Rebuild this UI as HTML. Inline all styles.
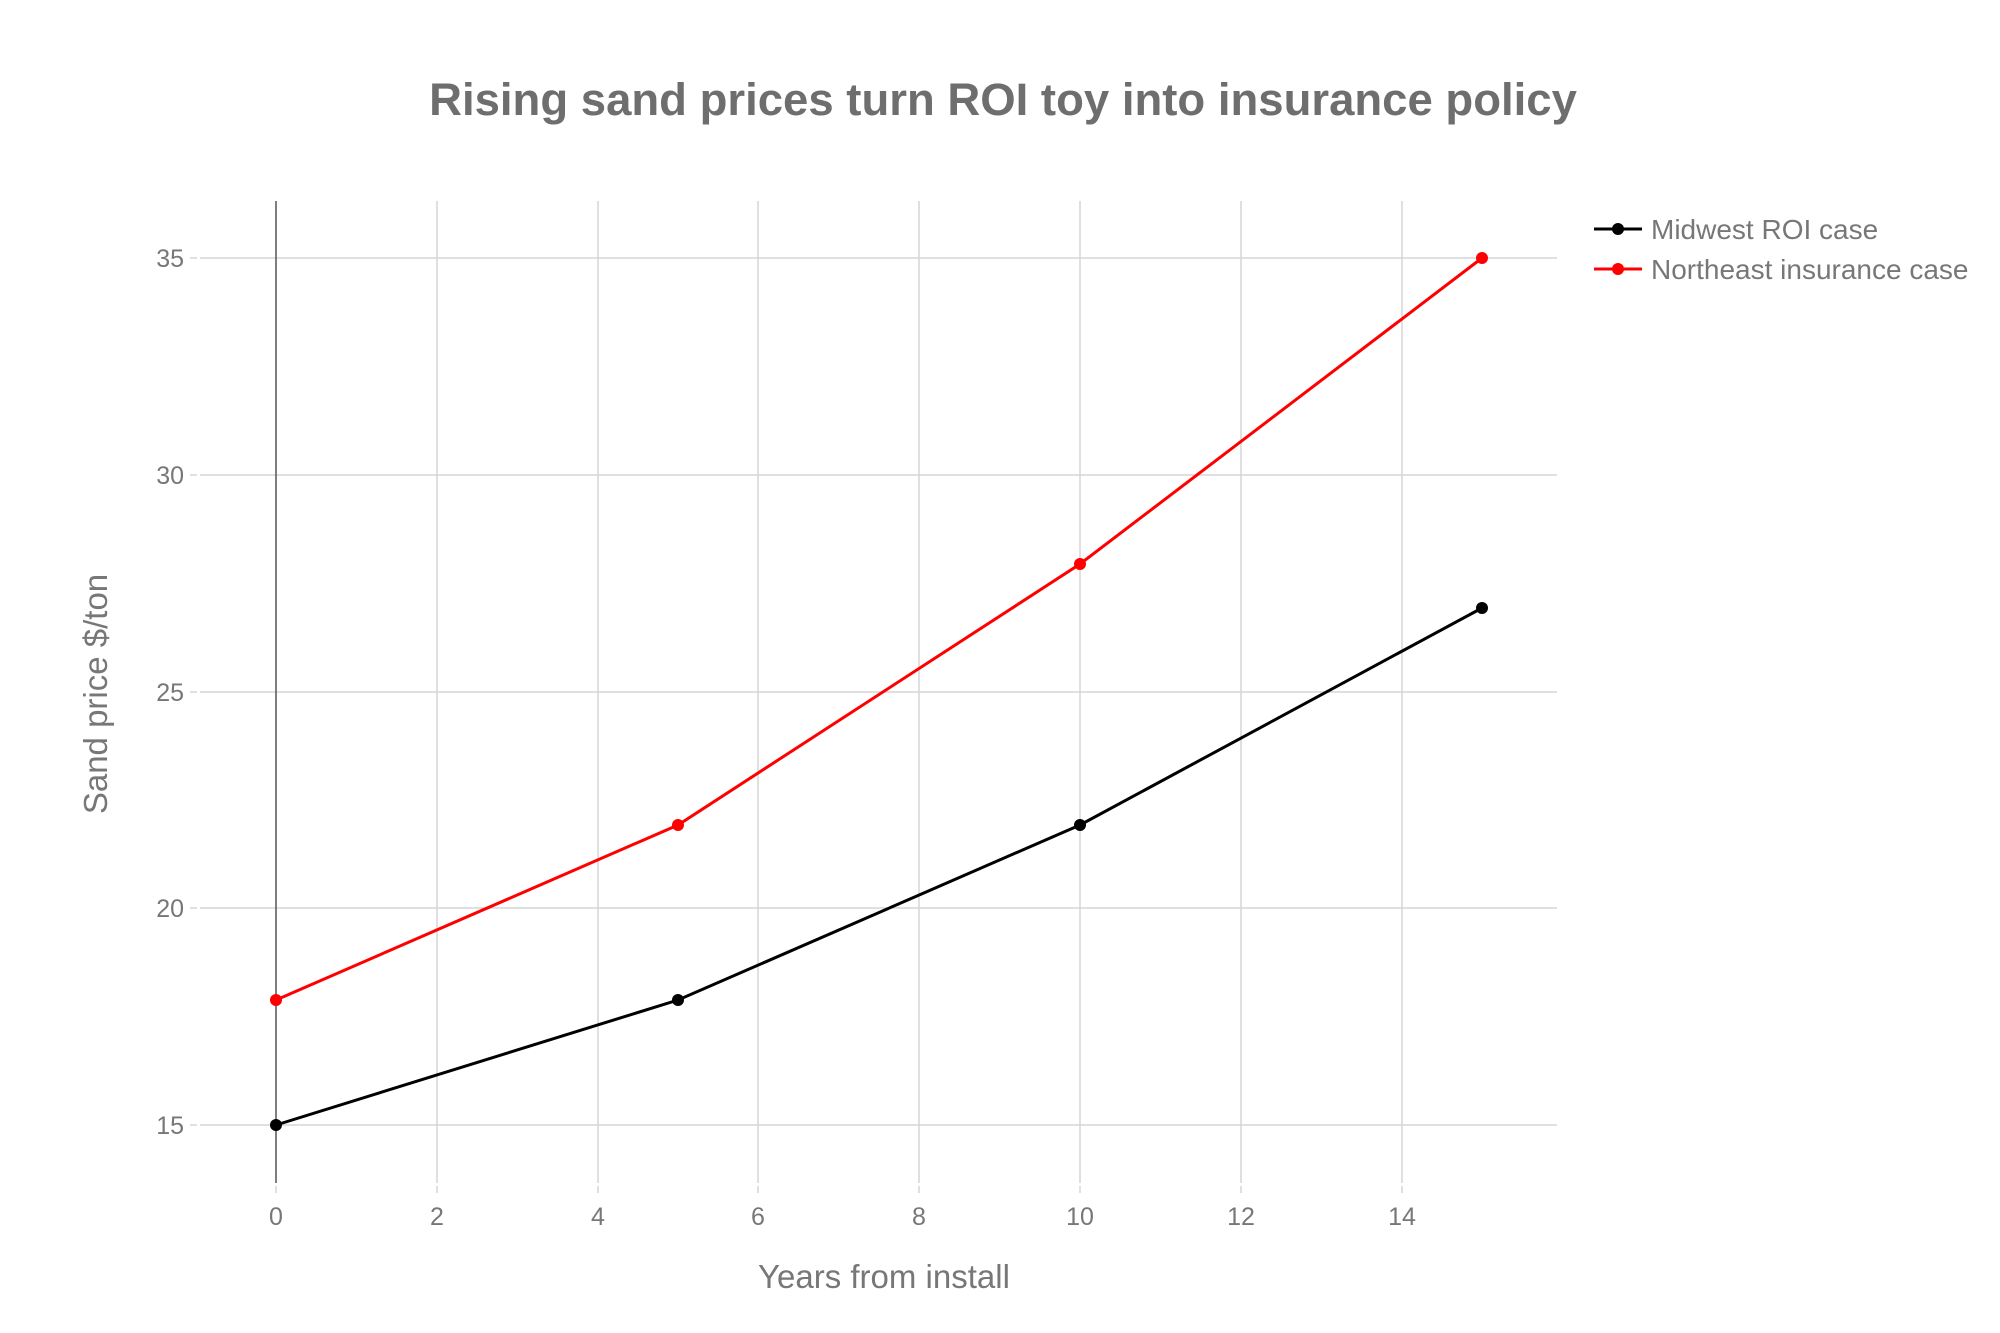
<!DOCTYPE html>
<html><head><meta charset="utf-8"><style>
html,body{margin:0;padding:0;background:#fff;}
svg{display:block;font-family:"Liberation Sans",sans-serif;}
</style></head><body>
<svg width="2000" height="1333" viewBox="0 0 2000 1333" xmlns="http://www.w3.org/2000/svg">
<rect width="2000" height="1333" fill="#fff"/>
<text x="1003" y="115" text-anchor="middle" font-size="45.5" font-weight="bold" fill="#6e6e6e">Rising sand prices turn ROI toy into insurance policy</text>
<g stroke="#d6d6d6" stroke-width="1.5">
<line x1="200" y1="258" x2="1557" y2="258"/>
<line x1="200" y1="475" x2="1557" y2="475"/>
<line x1="200" y1="692" x2="1557" y2="692"/>
<line x1="200" y1="908" x2="1557" y2="908"/>
<line x1="200" y1="1125" x2="1557" y2="1125"/>
<line x1="437" y1="201" x2="437" y2="1183"/>
<line x1="598" y1="201" x2="598" y2="1183"/>
<line x1="758" y1="201" x2="758" y2="1183"/>
<line x1="919" y1="201" x2="919" y2="1183"/>
<line x1="1080" y1="201" x2="1080" y2="1183"/>
<line x1="1241" y1="201" x2="1241" y2="1183"/>
<line x1="1402" y1="201" x2="1402" y2="1183"/>
</g>
<g stroke="#d6d6d6" stroke-width="1.5">
<line x1="276" y1="1186" x2="276" y2="1193"/><line x1="437" y1="1186" x2="437" y2="1193"/><line x1="598" y1="1186" x2="598" y2="1193"/><line x1="758" y1="1186" x2="758" y2="1193"/><line x1="919" y1="1186" x2="919" y2="1193"/><line x1="1080" y1="1186" x2="1080" y2="1193"/><line x1="1241" y1="1186" x2="1241" y2="1193"/><line x1="1402" y1="1186" x2="1402" y2="1193"/>
<line x1="190" y1="258" x2="197" y2="258"/><line x1="190" y1="475" x2="197" y2="475"/><line x1="190" y1="692" x2="197" y2="692"/><line x1="190" y1="908" x2="197" y2="908"/><line x1="190" y1="1125" x2="197" y2="1125"/>
</g>
<line x1="276" y1="201" x2="276" y2="1183" stroke="#555" stroke-width="1.5"/>
<g font-size="25" fill="#777" text-anchor="end">
<text x="184" y="267">35</text><text x="184" y="484">30</text><text x="184" y="701">25</text><text x="184" y="917">20</text><text x="184" y="1134">15</text>
</g>
<g font-size="25" fill="#777" text-anchor="middle">
<text x="276" y="1225">0</text><text x="437" y="1225">2</text><text x="598" y="1225">4</text><text x="758" y="1225">6</text><text x="919" y="1225">8</text><text x="1080" y="1225">10</text><text x="1241" y="1225">12</text><text x="1402" y="1225">14</text>
</g>
<text x="884" y="1288" text-anchor="middle" font-size="33" fill="#777">Years from install</text>
<text transform="translate(107,694) rotate(-90)" text-anchor="middle" font-size="33" fill="#777">Sand price $/ton</text>
<polyline points="276,1125 678,1000 1080,825 1482,608" fill="none" stroke="#000" stroke-width="3"/>
<polyline points="276,1000 678,825 1080,564 1482,258" fill="none" stroke="#ff0000" stroke-width="3"/>
<g fill="#000"><circle cx="276" cy="1125" r="6"/><circle cx="678" cy="1000" r="6"/><circle cx="1080" cy="825" r="6"/><circle cx="1482" cy="608" r="6"/></g>
<g fill="#ff0000"><circle cx="276" cy="1000" r="6"/><circle cx="678" cy="825" r="6"/><circle cx="1080" cy="564" r="6"/><circle cx="1482" cy="258" r="6"/></g>
<line x1="1594" y1="229" x2="1642" y2="229" stroke="#000" stroke-width="3"/><circle cx="1618" cy="229" r="6" fill="#000"/>
<line x1="1594" y1="269" x2="1642" y2="269" stroke="#ff0000" stroke-width="3"/><circle cx="1618" cy="269" r="6" fill="#ff0000"/>
<g font-size="28" fill="#777"><text x="1651" y="239">Midwest ROI case</text><text x="1651" y="279">Northeast insurance case</text></g>
</svg>
</body></html>
